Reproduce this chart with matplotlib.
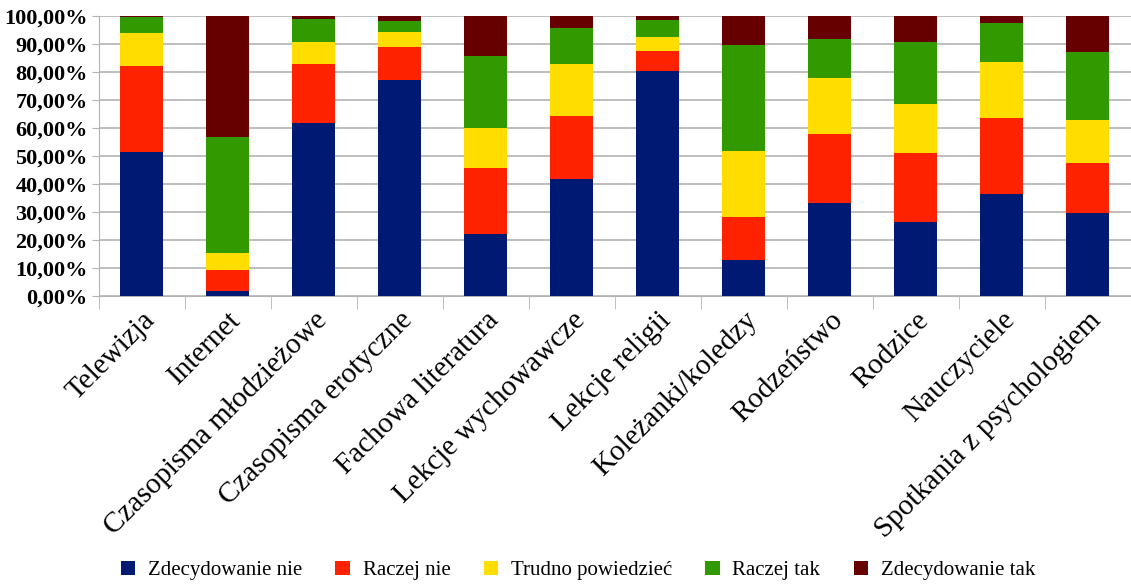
import numpy as np
import matplotlib
matplotlib.use("Agg")
import matplotlib.pyplot as plt
from matplotlib.ticker import FixedLocator
from matplotlib.font_manager import FontProperties

categories = ["Telewizja", "Internet", "Czasopisma młodzieżowe", "Czasopisma erotyczne",
              "Fachowa literatura", "Lekcje wychowawcze", "Lekcje religii",
              "Koleżanki/koledzy", "Rodzeństwo", "Rodzice", "Nauczyciele",
              "Spotkania z psychologiem"]

series_names = ["Zdecydowanie nie", "Raczej nie", "Trudno powiedzieć",
                "Raczej tak", "Zdecydowanie tak"]

# shares in %
zdecydowanie_nie = [51.5, 1.8, 61.7, 77.1, 22.0, 41.8, 80.4, 12.9, 33.1, 26.3, 36.3, 29.5]
raczej_nie = [30.6, 7.5, 21.0, 11.7, 23.6, 22.4, 7.2, 15.4, 24.9, 24.9, 27.3, 17.9]
trudno = [11.7, 5.9, 8.1, 5.6, 14.3, 18.5, 5.0, 23.5, 19.7, 17.3, 19.9, 15.6]
raczej_tak = [5.9, 41.7, 8.0, 3.7, 25.9, 13.0, 6.0, 37.7, 14.2, 22.2, 14.1, 24.0]
zdecydowanie_tak = [0.3, 43.1, 1.2, 1.9, 14.2, 4.3, 1.4, 10.5, 8.1, 9.3, 2.4, 13.0]

y_ticks = [0, 10, 20, 30, 40, 50, 60, 70, 80, 90, 100]
y_labels = [f"{t:.2f}%".replace(".", ",") for t in y_ticks]

colors = ["#001a73", "#ff2200", "#ffdd00", "#339900", "#660000"]

SERIF = ["Liberation Serif", "DejaVu Serif"]
plt.rcParams["font.family"] = SERIF

fig = plt.figure(figsize=(11.31, 5.85), dpi=100)
ax = fig.add_axes([0.0873, 0.494, 0.9127, 0.4786])

x = np.arange(len(categories))
bottom = np.zeros(len(categories))
data = [zdecydowanie_nie, raczej_nie, trudno, raczej_tak, zdecydowanie_tak]
for vals, name, c in zip(data, series_names, colors):
    vals = np.array(vals)
    ax.bar(x, vals, 0.5, bottom=bottom, color=c, label=name, zorder=3)
    bottom += vals

ax.set_xlim(-0.5, len(categories) - 0.5)
ax.set_ylim(0, 100)
ax.set_yticks(y_ticks, labels=y_labels, family=SERIF, fontweight="bold", fontsize=16)
ax.yaxis.grid(True, color="#b3b3b3", linewidth=1.2, zorder=0)
ax.tick_params(axis="y", length=5, color="#b3b3b3", pad=3)

ax.set_xticks(x)
ax.set_xticklabels(categories, rotation=45, ha="right", va="top",
                   rotation_mode="anchor", fontsize=21, family=SERIF)
ax.tick_params(axis="x", length=0, pad=8)
ax.xaxis.set_minor_locator(FixedLocator(np.arange(-0.5, len(categories), 1)))
ax.tick_params(axis="x", which="minor", length=9, color="#b3b3b3")

for s in ["top", "right"]:
    ax.spines[s].set_visible(False)
ax.spines["left"].set_color("#b3b3b3")
ax.spines["bottom"].set_color("#b3b3b3")

fig.legend(loc="center", bbox_to_anchor=(0.511, 0.025), ncol=5, frameon=False,
           prop=FontProperties(family=SERIF, size=15),
           handlelength=0.7, handleheight=0.7, handletextpad=0.6,
           columnspacing=1.6)

fig.savefig("out.png", dpi=100)
